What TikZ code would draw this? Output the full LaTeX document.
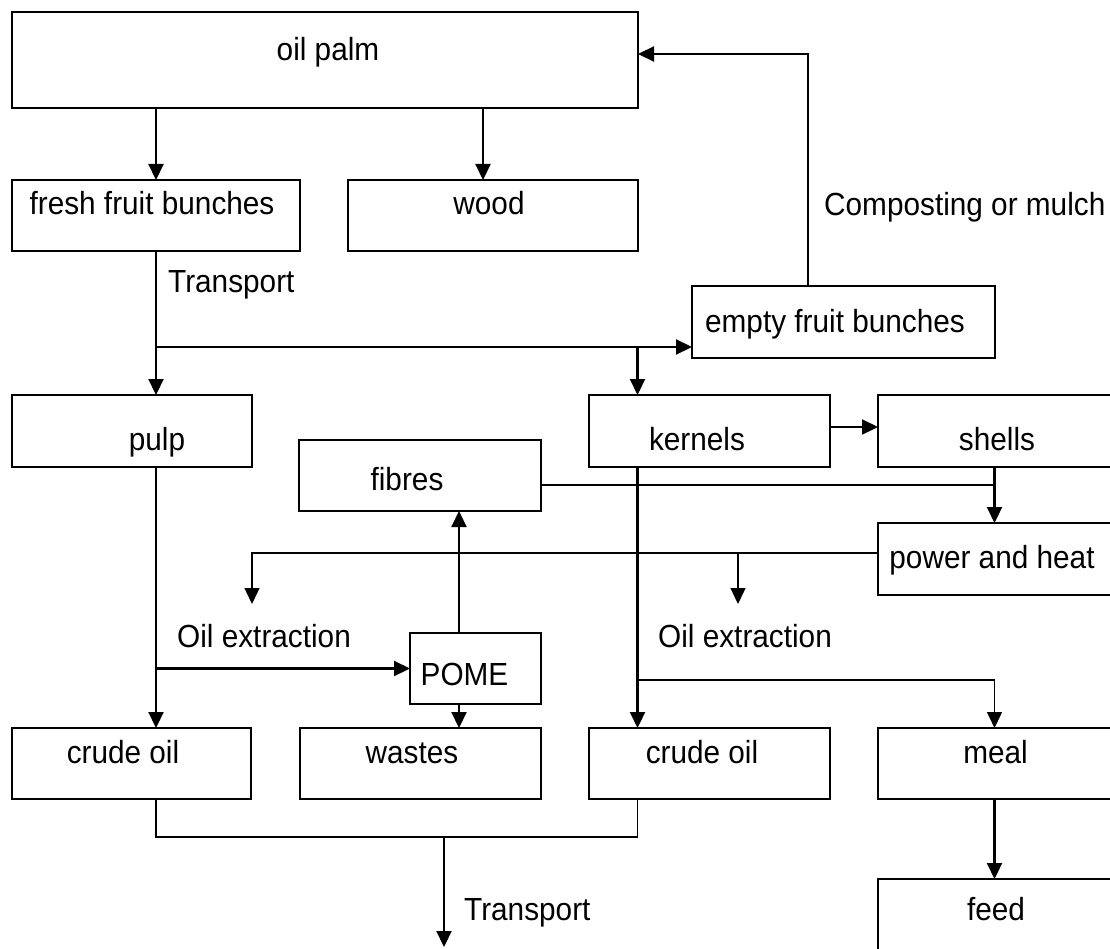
\documentclass[tikz,border=0pt]{standalone}
\usepackage{fontspec}
\setmainfont[FakeStretch=0.93]{Liberation Sans}
\usetikzlibrary{arrows.meta}

\begin{document}
\begin{tikzpicture}[x=1pt,y=-1pt,
  box/.style={draw, line width=2.2pt, inner sep=0pt, outer sep=0pt, anchor=north west},
  txt/.style={inner sep=0pt, anchor=base, font=\fontsize{32}{38}\selectfont},
  lbl/.style={inner sep=0pt, anchor=base west, font=\fontsize{32}{38}\selectfont},
  arr/.style={line width=2.2pt, -{Triangle[length=16pt,width=15pt]}},
  thinc/.style={line width=1.4pt},
  thinarr/.style={line width=1.4pt, -{Triangle[length=16pt,width=15pt]}}
]
\useasboundingbox (0,0) rectangle (1110,949);
\fill[white] (0,0) rectangle (1110,949);
\clip (0,0) rectangle (1110,949);

% boxes
\node[box, minimum width=626pt, minimum height=96pt] (op)    at (12,12)  {};
\node[box, minimum width=288pt, minimum height=71pt] (ffb)   at (12,180) {};
\node[box, minimum width=290pt, minimum height=71pt] (wood)  at (348,180) {};
\node[box, minimum width=303pt, minimum height=72pt] (efb)   at (692,286) {};
\node[box, minimum width=240pt, minimum height=72pt] (pulp)  at (12,395) {};
\node[box, minimum width=242pt, minimum height=71pt] (fib)   at (299,440) {};
\node[box, minimum width=241pt, minimum height=72pt] (kern)  at (589,395) {};
\node[box, minimum width=250pt, minimum height=72pt] (shell) at (878,395) {};
\node[box, minimum width=250pt, minimum height=72pt] (pw)    at (878,523) {};
\node[box, minimum width=131pt, minimum height=71pt] (pome)  at (410,633) {};
\node[box, minimum width=239pt, minimum height=71pt] (cr1)   at (12,728) {};
\node[box, minimum width=241pt, minimum height=71pt] (wst)   at (300,728) {};
\node[box, minimum width=241pt, minimum height=71pt] (cr2)   at (589,728) {};
\node[box, minimum width=250pt, minimum height=71pt] (meal)  at (878,728) {};
\node[box, minimum width=250pt, minimum height=90pt] (feed)  at (878,879) {};

% box texts
\node[txt] (t-op)    at (328,61)  {oil palm};
\node[txt] (t-ffb)   at (152,215) {fresh fruit bunches};
\node[txt] (t-wood)  at (489,215) {wood};
\node[txt] (t-efb)   at (835,332) {empty fruit bunches};
\node[txt] (t-pulp)  at (157,450) {pulp};
\node[txt] (t-fib)   at (407,490) {fibres};
\node[txt] (t-kern)  at (697,450) {kernels};
\node[txt] (t-shell) at (997,450) {shells};
\node[txt] (t-pw)    at (992,568) {power and heat};
\node[txt] (t-pome)  at (464.5,685) {POME};
\node[txt] (t-cr1)   at (123,763) {crude oil};
\node[txt] (t-wst)   at (412,763) {wastes};
\node[txt] (t-cr2)   at (702,763) {crude oil};
\node[txt] (t-meal)  at (995.5,763) {meal};
\node[txt] (t-feed)  at (996,920) {feed};

% connector labels
\node[lbl] (l-tr1) at (168,293) {Transport};
\node[lbl] (l-cm)  at (824,216) {Composting or mulch};
\node[lbl] (l-oe1) at (177,647) {Oil extraction};
\node[lbl] (l-oe2) at (658,647) {Oil extraction};
\node[lbl] (l-tr2) at (464,920) {Transport};

% helper coordinates
\coordinate (kx) at ([xshift=48.5pt]kern.north west);
\coordinate (sx) at ([xshift=116.5pt]shell.south west);
\coordinate (px) at ([xshift=49pt]pome.north west);
\coordinate (j1) at (155,347);
\coordinate (ym) at (0,680);
\coordinate (yj) at (0,837);
\coordinate (oe1) at (252,604);
\coordinate (oe2) at (738,604);
\coordinate (tend) at (444,947);

% oil palm outputs
\draw[arr] (op.south -| ffb.north) -- (ffb.north);
\draw[arr] ([xshift=471pt]op.south west) -- ([xshift=135pt]wood.north west);
% composting loop
\draw[arr] ([xshift=116pt]efb.north west) |- ([yshift=6pt]op.east);
% transport to mill
\draw[arr] (ffb.south) -- (pulp.north -| ffb.south);
\draw[arr] (j1) -- (efb.west |- j1);
\draw[arr] (j1 -| kx) -- (kx);
% kernels and shells
\draw[arr] ([yshift=4pt]kern.east) -- ([yshift=4pt]shell.west);
\draw[arr] (sx) -- (sx |- pw.north);
\draw[thinc] ([yshift=-9.5pt]fib.east) -- ([yshift=-9.5pt]fib.east -| sx);
% power and heat to oil extraction
\draw[thinarr] ([yshift=6pt]pw.west) -| (oe1);
\draw[thinarr] ([yshift=6pt]pw.west -| oe2) -- (oe2);
% pulp line
\draw[arr] (pulp.south -| ffb.south) -- (cr1.north -| ffb.south);
\draw[arr] (pome.west -| ffb.south) -- (pome.west);
\draw[arr] (px) -- (px |- fib.south);
\draw[arr] (px |- pome.south) -- (px |- wst.north);
% kernel line
\draw[arr] (kx |- kern.south) -- (kx |- cr2.north);
\draw[thinarr] (kx |- ym) -| (sx |- meal.north);
\draw[arr] (sx |- meal.south) -- (sx |- feed.north);
% crude oil collection
\draw[thinc] (ffb.south |- cr1.south) -- (ffb.south |- yj) -- (kx |- yj) -- (kx |- cr2.south);
\draw[arr] (tend |- yj) -- (tend);
\end{tikzpicture}
\end{document}
